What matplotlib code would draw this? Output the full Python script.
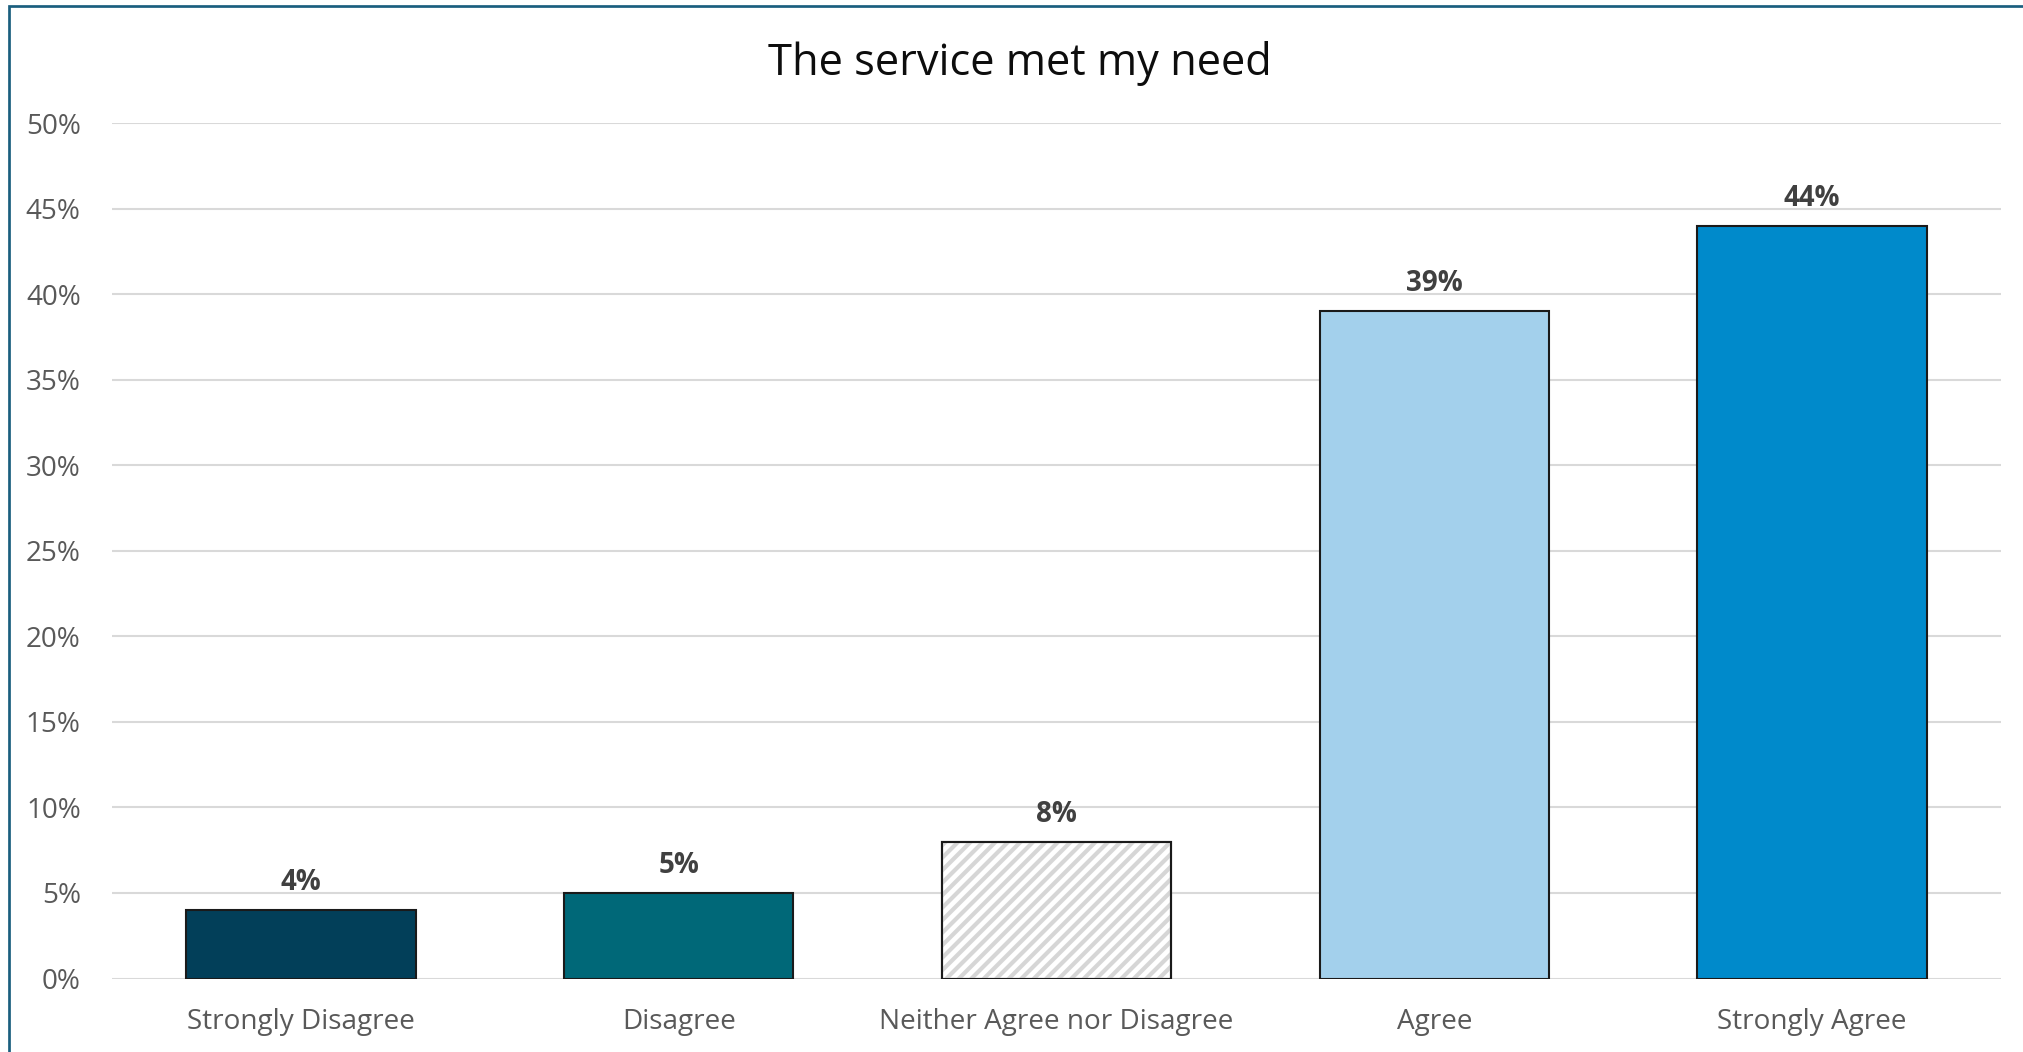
#!/usr/bin/env python3
"""Bar chart: 'The service met my need' survey responses."""

import matplotlib

matplotlib.use("Agg")
import matplotlib.pyplot as plt
from matplotlib.patches import Rectangle
from matplotlib.ticker import PercentFormatter

categories = [
    "Strongly Disagree",
    "Disagree",
    "Neither Agree nor Disagree",
    "Agree",
    "Strongly Agree",
]
shares = [0.04, 0.05, 0.08, 0.39, 0.44]
bar_colors = ["#023F59", "#006878", "#FFFFFF", "#A3D0EC", "#008ACB"]
title = "The service met my need"


def main() -> None:
    plt.rcParams["font.family"] = ["Open Sans", "DejaVu Sans"]
    plt.rcParams["hatch.linewidth"] = 2.0

    W, H, dpi = 2023, 1052, 150
    fig = plt.figure(figsize=(W / dpi, H / dpi), dpi=dpi)
    ax = fig.add_axes([112 / W, 1 - 978.5 / H, (2001 - 112) / W, (978.5 - 123) / H])

    x = list(range(len(categories)))
    width = 0.607
    bars = ax.bar(x, shares, width=width, color=bar_colors, edgecolor="#1A1A1A",
                  linewidth=1.0, zorder=3)

    # neutral bar gets light grey diagonal stripes
    mid = categories.index("Neither Agree nor Disagree")
    ax.bar([mid], [shares[mid]], width=width, color="none", edgecolor="#D6D6D6",
           linewidth=0, hatch="////", zorder=3.5)
    ax.bar([mid], [shares[mid]], width=width, color="none", edgecolor="#1A1A1A",
           linewidth=1.0, zorder=4)

    for b, v in zip(bars, shares):
        ax.annotate(f"{v:.0%}", xy=(b.get_x() + b.get_width() / 2, v),
                    xytext=(0, 9.5), textcoords="offset points",
                    ha="center", va="baseline", fontsize=13.3, fontweight="bold",
                    color="#404040")

    ax.set_xlim(-0.5, len(categories) - 0.5)
    ax.set_ylim(0, 0.5)
    ax.set_yticks([i * 0.05 for i in range(11)])
    ax.yaxis.set_major_formatter(PercentFormatter(1.0, decimals=0))
    ax.set_xticks(x)
    ax.set_xticklabels(categories)
    ax.tick_params(axis="y", length=0, pad=15, labelsize=13.4, labelcolor="#595959")
    ax.tick_params(axis="x", length=0, pad=14, labelsize=13.4, labelcolor="#595959")
    ax.grid(axis="y", color="#D9D9D9", linewidth=1.0, zorder=0)
    ax.set_axisbelow(True)
    for s in ax.spines.values():
        s.set_visible(False)

    fig.text(1020 / W, 1 - 75 / H, title, ha="center", va="baseline",
             fontsize=20.8, color="#0D0D0D")

    # chart frame (runs off the right and bottom edges)
    fig.patches.append(Rectangle((9 / W, -0.05), 1.1, 1 - 6 / H + 0.05,
                                 transform=fig.transFigure, fill=False,
                                 edgecolor="#1A5E7E", linewidth=1.3, clip_on=False))

    fig.savefig("out.png", dpi=dpi)
    plt.close(fig)


if __name__ == "__main__":
    main()
